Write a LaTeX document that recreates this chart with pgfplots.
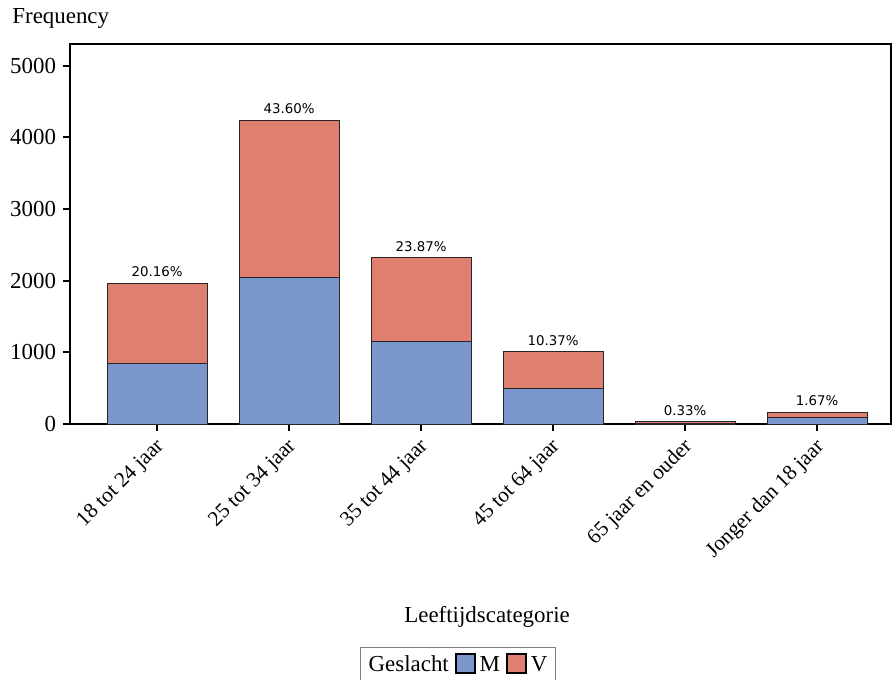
\documentclass[border=0pt]{standalone}
\usepackage{pgfplots}
\pgfplotsset{compat=1.18}
\usepackage{fontspec}
\setmainfont{Liberation Serif}
\newfontfamily\pctfont{DejaVu Sans}
\definecolor{mblue}{RGB}{123,150,203}
\definecolor{vred}{RGB}{222,127,112}
\begin{document}
\begin{tikzpicture}
\useasboundingbox (-35bp,-128bp) rectangle (411.5bp,212bp);
\begin{axis}[
  compat/bar nodes=1.8,
  at={(0,0)}, anchor=south west, scale only axis,
  width=410.5bp, height=190bp,
  ybar stacked, bar width=50bp,
  xmin=-0.66, xmax=5.56, ymin=0, ymax=5302,
  xtick={0,1,2,3,4,5},
  xticklabels={18 tot 24 jaar,25 tot 34 jaar,35 tot 44 jaar,45 tot 64 jaar,65 jaar en ouder,Jonger dan 18 jaar},
  ytick={0,1000,2000,3000,4000,5000},
  scaled y ticks=false,
  /pgf/number format/assume math mode=true,
  /pgf/number format/1000 sep={},
  tick align=outside, major tick length=3.5bp,
  xtick pos=bottom, ytick pos=left,
  axis line style={line width=1bp},
  every tick/.style={line width=1bp, black},
  tick label style={font=\fontsize{11.5}{13}\selectfont},
  x tick label style={rotate=45, anchor=north east, inner sep=1pt, xshift=-2bp, font=\fontsize{10.7}{12}\selectfont},
  label style={font=\fontsize{11.5}{13}\selectfont},
  xlabel={Leeftijdscategorie},
  xlabel style={at={(rel axis cs:0.508,-0.508)}, anchor=center},
  legend columns=3,
  legend style={at={(rel axis cs:0.4726,-0.587)}, anchor=north, draw=gray, line width=0.6pt,
    font=\fontsize{11.5}{13}\selectfont, inner sep=2pt,
    /tikz/every even column/.append style={column sep=1bp}},
  legend image code/.code={\draw[#1, draw=black, line width=0.9bp] (0bp,-4bp) rectangle (9.5bp,5.5bp);},
]
\addlegendimage{empty legend}
\addlegendentry{Geslacht}
\addplot[fill=mblue, draw=black!85, line width=0.5bp] coordinates {(0,840) (1,2045) (2,1156) (3,497) (4,14) (5,94)};
\addlegendentry{M}
\addplot[fill=vred, draw=black!85, line width=0.5bp,
  nodes near coords={\pgfplotspointmeta\%},
  point meta=explicit symbolic,
  every node near coord/.style={font=\pctfont\fontsize{6.7}{7.5}\selectfont, inner sep=3pt, anchor=south, black}]
  table[meta=lab] {
x y lab
0 1120 20.16
1 2193 43.60
2 1164 23.87
3 511 10.37
4 18 0.33
5 68 1.67
};
\addlegendentry{V}
\end{axis}
\node[anchor=west, font=\fontsize{11.5}{13}\selectfont, inner sep=0pt] at (-29bp,203bp) {Frequency};
\end{tikzpicture}
\end{document}
